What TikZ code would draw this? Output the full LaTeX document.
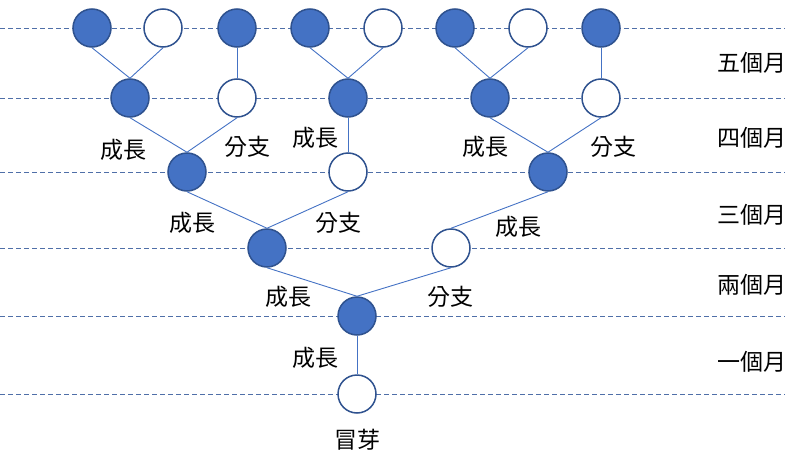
\documentclass[tikz,border=0pt]{standalone}
\usepackage{fontspec}
\newfontfamily\cjk{Noto Sans CJK TC}
\definecolor{nodeblue}{HTML}{4472C4}
\definecolor{edgeblue}{HTML}{2F528F}
\definecolor{dashblue}{HTML}{4F6FA8}
\begin{document}
\begin{tikzpicture}[x=1pt,y=-1pt,
  full/.style={circle,draw=edgeblue,fill=nodeblue,line width=1.5pt,minimum size=38pt,inner sep=0pt},
  empty/.style={circle,draw=edgeblue,fill=white,line width=1.5pt,minimum size=38pt,inner sep=0pt},
  link/.style={draw=nodeblue,line width=0.9pt},
  grid/.style={draw=dashblue,line width=0.9pt,dash pattern=on 5pt off 3pt},
  lab/.style={font=\cjk\fontsize{23}{23}\selectfont,inner sep=0pt,text=black}]
\useasboundingbox (0,0) rectangle (798,455);
% dashed level lines
\foreach \yy [count=\i] in {28,98,172,248,316,394}
  \draw[grid] (0,\yy) coordinate (gl\i) -- (785,\yy) coordinate (gr\i);
% nodes
\node[empty] (r0) at (357,394) {};
\node[full] (r1) at (357,316) {};
\node[full] (r2a) at (267,248) {};
\node[empty] (r2b) at (451,248) {};
\node[full] (r3a) at (187,172) {};
\node[empty] (r3b) at (348,172) {};
\node[full] (r3c) at (548,172) {};
\node[full] (r4a) at (130,98) {};
\node[empty] (r4b) at (237,98) {};
\node[full] (r4c) at (348,98) {};
\node[full] (r4d) at (490,98) {};
\node[empty] (r4e) at (601,98) {};
\node[full] (r5a) at (92,28) {};
\node[empty] (r5b) at (163,28) {};
\node[full] (r5c) at (237,28) {};
\node[full] (r5d) at (310,28) {};
\node[empty] (r5e) at (383,28) {};
\node[full] (r5f) at (455,28) {};
\node[empty] (r5g) at (528,28) {};
\node[full] (r5h) at (601,28) {};
% connectors
\foreach \a/\b in {r1/r0, r2a/r1, r2b/r1, r3a/r2a, r3b/r2a, r3c/r2b,
  r4a/r3a, r4b/r3a, r4c/r3b, r4d/r3c, r4e/r3c,
  r5a/r4a, r5b/r4a, r5c/r4b, r5d/r4c, r5e/r4c, r5f/r4d, r5g/r4d, r5h/r4e}
  \draw[link] (\a.south) -- (\b.north);
% labels
\node[lab] (t0) at (357,440) {冒芽};
\node[lab] (g1) at (315,358) {成長};
\node[lab] (g2) at (288,297) {成長};
\node[lab] (b2) at (450,297) {分支};
\node[lab] (g3) at (192,223) {成長};
\node[lab] (b3) at (338,223) {分支};
\node[lab] (g3b) at (518,227) {成長};
\node[lab] (g4) at (123,150) {成長};
\node[lab] (b4) at (247,147) {分支};
\node[lab] (g4b) at (315,138) {成長};
\node[lab] (g4c) at (485,147) {成長};
\node[lab] (b4b) at (613,147) {分支};
\node[lab] (m5) at (752,63) {五個月};
\node[lab] (m4) at (752,138) {四個月};
\node[lab] (m3) at (752,215) {三個月};
\node[lab] (m2) at (752,285) {兩個月};
\node[lab] (m1) at (752,362) {一個月};
\end{tikzpicture}
\end{document}
